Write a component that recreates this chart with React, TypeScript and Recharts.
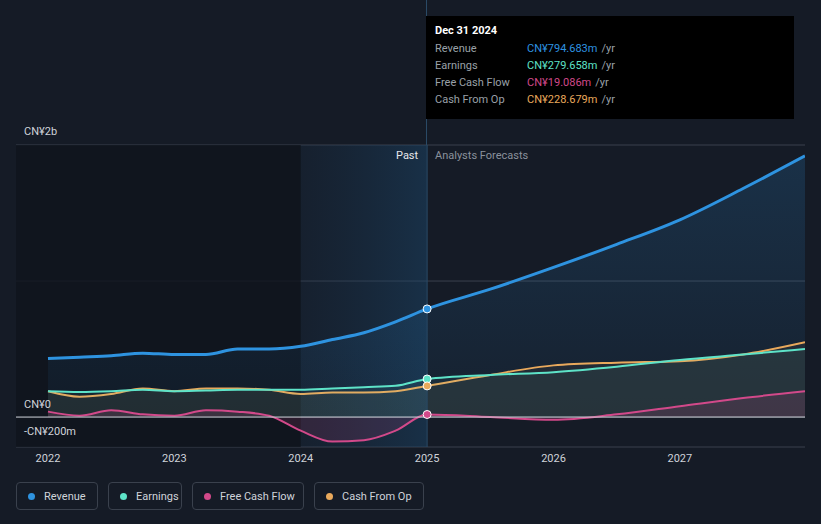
import React from 'react';
import { ComposedChart, Area, XAxis, YAxis, CartesianGrid, ReferenceArea, ReferenceLine, ReferenceDot } from 'recharts';

const years = [2022, 2022.25, 2022.5, 2022.75, 2023, 2023.25, 2023.5, 2023.75, 2024, 2024.25, 2024.5, 2024.75, 2025, 2025.5, 2026, 2026.5, 2027, 2027.5, 2027.99];
const revenue = [0.43, 0.44, 0.45, 0.47, 0.46, 0.46, 0.5, 0.5, 0.52, 0.57, 0.62, 0.7, 0.795, 0.94, 1.1, 1.27, 1.45, 1.68, 1.92];
const earnings = [0.19, 0.185, 0.19, 0.2, 0.19, 0.195, 0.2, 0.2, 0.2, 0.21, 0.22, 0.23, 0.28, 0.31, 0.33, 0.37, 0.42, 0.46, 0.5];
const cashFromOp = [0.19, 0.15, 0.17, 0.21, 0.19, 0.21, 0.21, 0.2, 0.17, 0.18, 0.18, 0.19, 0.229, 0.31, 0.38, 0.4, 0.41, 0.46, 0.55];
const freeCashFlow = [0.04, 0.01, 0.05, 0.02, 0.01, 0.05, 0.04, 0.01, -0.1, -0.18, -0.17, -0.1, 0.019, 0.0, -0.02, 0.02, 0.08, 0.14, 0.19];
const xTicks = [2022, 2023, 2024, 2025, 2026, 2027];

const data = years.map((x, i) => ({ x, revenue: revenue[i], earnings: earnings[i], cfo: cashFromOp[i], fcf: freeCashFlow[i] }));

const legend = [
  { name: 'Revenue', color: '#2e93e0', w: 82 },
  { name: 'Earnings', color: '#5ee3c8', w: 74 },
  { name: 'Free Cash Flow', color: '#d2498a', w: 112 },
  { name: 'Cash From Op', color: '#e9a95c', w: 110 },
];

const tip = [
  { k: 'Revenue', v: 'CN¥794.683m', c: '#2e93e0' },
  { k: 'Earnings', v: 'CN¥279.658m', c: '#5ee3c8' },
  { k: 'Free Cash Flow', v: 'CN¥19.086m', c: '#d2498a' },
  { k: 'Cash From Op', v: 'CN¥228.679m', c: '#e9a95c' },
];

export default function App() {
  return (
    <div style={{ position: 'fixed', left: 0, top: 0, width: 821, height: 524, background: '#151b26', fontFamily: 'Roboto, sans-serif', overflow: 'hidden' }}>
      <ComposedChart width={821} height={524} data={data} margin={{ top: 145, right: 16, bottom: 47, left: 16 }}>
        <defs>
          <linearGradient id="past" x1="0" y1="0" x2="1" y2="0">
            <stop offset="0%" stopColor="#1a3550" stopOpacity={0.4} />
            <stop offset="100%" stopColor="#1c4a70" stopOpacity={0.9} />
          </linearGradient>
          <linearGradient id="rev" x1="0" y1="0" x2="0" y2="1">
            <stop offset="0%" stopColor="#2e93e0" stopOpacity={0.3} />
            <stop offset="100%" stopColor="#2e93e0" stopOpacity={0.08} />
          </linearGradient>
        </defs>
        <ReferenceArea x1={2021.747} x2={2024} y1={-0.22} y2={2.0} fill="#0f141d" fillOpacity={0.8} />
        <ReferenceArea x1={2024} x2={2025} y1={-0.22} y2={2.0} fill="url(#past)" />
        <CartesianGrid horizontal vertical={false} stroke="#3a414d" />
        <XAxis dataKey="x" type="number" domain={[2021.747, 2027.99]} ticks={xTicks} allowDataOverflow axisLine={false} tickLine={false}
          tick={{ fill: '#cfd3da', fontSize: 11 }} tickMargin={1} />
        <YAxis hide domain={[-0.22, 2.0]} ticks={[0, 1, 2]} allowDataOverflow />
        <Area type="monotone" dataKey="revenue" stroke="#2e93e0" strokeWidth={3} fill="url(#rev)" isAnimationActive={false} dot={false} />
        <Area type="monotone" dataKey="cfo" stroke="#e9a95c" strokeWidth={2} fill="#e9a95c" fillOpacity={0.06} isAnimationActive={false} dot={false} />
        <Area type="monotone" dataKey="earnings" stroke="#5ee3c8" strokeWidth={2} fill="#5ee3c8" fillOpacity={0.06} isAnimationActive={false} dot={false} />
        <Area type="monotone" dataKey="fcf" stroke="#d2498a" strokeWidth={2} fill="#d2498a" fillOpacity={0.15} isAnimationActive={false} dot={false} />
        <ReferenceLine y={0} stroke="#cfd3da" strokeWidth={1} />
        <ReferenceLine x={2025} stroke="#2a4a66" strokeWidth={1} />
        <ReferenceDot x={2025} y={0.795} r={4} fill="#2e93e0" stroke="#fff" strokeWidth={1} />
        <ReferenceDot x={2025} y={0.28} r={4} fill="#5ee3c8" stroke="#fff" strokeWidth={1} />
        <ReferenceDot x={2025} y={0.229} r={4} fill="#e9a95c" stroke="#fff" strokeWidth={1} />
        <ReferenceDot x={2025} y={0.019} r={4} fill="#d2498a" stroke="#fff" strokeWidth={1} />
      </ComposedChart>
      <div style={{ position: 'absolute', left: 426, top: 0, width: 1, height: 145, background: '#2a4a66' }} />
      <div style={{ position: 'absolute', left: 24, top: 125, color: '#cfd3da', fontSize: 11 }}>CN¥2b</div>
      <div style={{ position: 'absolute', left: 24, top: 398, color: '#cfd3da', fontSize: 11 }}>CN¥0</div>
      <div style={{ position: 'absolute', left: 24, top: 425, color: '#cfd3da', fontSize: 11 }}>-CN¥200m</div>
      <div style={{ position: 'absolute', left: 396, top: 149, color: '#e6e8eb', fontSize: 11 }}>Past</div>
      <div style={{ position: 'absolute', left: 435, top: 149, color: '#8a919c', fontSize: 11 }}>Analysts Forecasts</div>
      <div style={{ position: 'absolute', left: 426, top: 16, width: 368, height: 103, background: '#000', boxSizing: 'border-box', padding: '8px 9px', fontSize: 11 }}>
        <div style={{ color: '#fff', fontWeight: 'bold', marginBottom: 5 }}>Dec 31 2024</div>
        {tip.map(t => (
          <div key={t.k} style={{ display: 'flex', height: 17 }}>
            <span style={{ width: 92, color: '#9aa0a8' }}>{t.k}</span>
            <span style={{ color: t.c }}>{t.v}</span>
            <span style={{ color: '#9aa0a8', marginLeft: 4 }}>/yr</span>
          </div>
        ))}
      </div>
      <div style={{ position: 'absolute', left: 16, top: 482, display: 'flex', gap: 10 }}>
        {legend.map(l => (
          <div key={l.name} style={{ width: l.w, height: 28, boxSizing: 'border-box', border: '1px solid #3a414d', borderRadius: 4, display: 'flex', alignItems: 'center', paddingLeft: 11, fontSize: 11, color: '#cfd3da', whiteSpace: 'nowrap' }}>
            <span style={{ width: 7, height: 7, borderRadius: 4, background: l.color, marginRight: 9, flexShrink: 0 }} />
            {l.name}
          </div>
        ))}
      </div>
    </div>
  );
}
